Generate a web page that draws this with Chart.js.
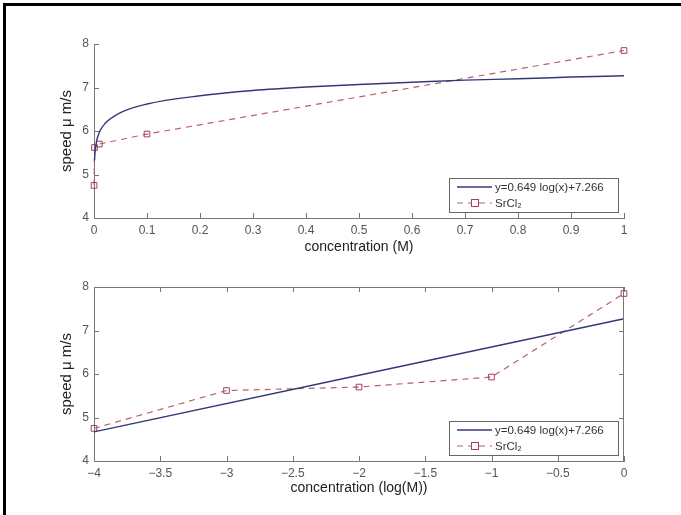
<!DOCTYPE html>
<html>
<head>
<meta charset="utf-8">
<title>speed vs concentration</title>
<script src="https://cdn.jsdelivr.net/npm/chart.js@4.4.1/dist/chart.umd.min.js"></script>
<style>
  body { margin: 0; background: #fff; }
  #wrap { position: relative; width: 681px; height: 515px; overflow: hidden; background: #fff; }
  #frame { position: absolute; left: 3px; top: 3px; width: 700px; height: 600px;
           border-left: 3px solid #000; border-top: 3px solid #000; }
  canvas { position: absolute; left: 0; }
  #top { top: 0; }
  #bottom { top: 256px; }
</style>
</head>
<body>
<div id="wrap">
  <div id="frame"></div>
  <canvas id="top" width="681" height="256"></canvas>
  <canvas id="bottom" width="681" height="259"></canvas>
</div>
<script>
// measured points (SrCl2)
const concM = [0.0001, 0.001, 0.01, 0.1, 1];
const concLog = [-4, -3, -2, -1, 0];
const speed = [4.75, 5.62, 5.70, 5.93, 7.85];

// fit curve, values
const fitX = [0.001, 0.002, 0.005, 0.01, 0.02, 0.05, 0.1, 0.2, 0.3, 0.4, 0.5, 0.6, 0.7, 0.8, 0.9, 1.0];
const fitY = [5.32, 5.51, 5.77, 5.97, 6.16, 6.42, 6.62, 6.81, 6.93, 7.01, 7.07, 7.12, 7.17, 7.20, 7.24, 7.27];

// fit line in the log panel (end points)
const fitLogX = [-4, 0];
const fitLogY = [4.67, 7.27];

const yTicks = [4, 5, 6, 7, 8];
const fitLabel = 'y=0.649 log(x)+7.266';
const dataLabel = 'SrCl₂';

const axisColor = '#777';
const fitColor = '#34387a';
const dashColor = '#b8616e';
const markColor = '#a3405a';

function pts(xs, ys) {
  return xs.map((x, i) => ({ x: x, y: ys[i] }));
}

// MATLAB style ticks pointing into the plot, plus optional box
const innerTicks = {
  id: 'innerTicks',
  afterDraw(chart, args, opts) {
    const ctx = chart.ctx;
    const a = chart.chartArea;
    const xs = chart.scales.x, ys = chart.scales.y;
    ctx.save();
    ctx.strokeStyle = axisColor;
    ctx.lineWidth = 1;
    ctx.beginPath();
    xs.ticks.forEach(t => {
      const px = Math.round(xs.getPixelForValue(t.value)) + 0.5;
      ctx.moveTo(px, a.bottom); ctx.lineTo(px, a.bottom - 5);
      if (opts.box) { ctx.moveTo(px, a.top); ctx.lineTo(px, a.top + 5); }
    });
    ys.ticks.forEach(t => {
      const py = Math.round(ys.getPixelForValue(t.value)) + 0.5;
      ctx.moveTo(a.left, py); ctx.lineTo(a.left + 5, py);
      if (opts.box) { ctx.moveTo(a.right, py); ctx.lineTo(a.right - 5, py); }
    });
    if (opts.box) {
      ctx.moveTo(a.left, a.top + 0.5); ctx.lineTo(a.right, a.top + 0.5);
      ctx.moveTo(a.right - 0.5, a.top); ctx.lineTo(a.right - 0.5, a.bottom);
    }
    ctx.stroke();
    ctx.restore();
  }
};

// boxed legend in the lower right corner
const boxLegend = {
  id: 'boxLegend',
  afterDraw(chart) {
    const ctx = chart.ctx;
    const a = chart.chartArea;
    const w = 169, h = 34;
    const x0 = a.right - 6 - w, y0 = a.bottom - 6 - h;
    ctx.save();
    ctx.fillStyle = '#fff';
    ctx.fillRect(x0, y0, w, h);
    ctx.strokeStyle = '#666';
    ctx.lineWidth = 1;
    ctx.strokeRect(x0 + 0.5, y0 + 0.5, w, h);
    const ds = chart.data.datasets;
    const rows = [y0 + 9, y0 + 25];
    ds.forEach((d, i) => {
      const y = rows[i];
      ctx.strokeStyle = d.borderColor;
      ctx.lineWidth = d.borderWidth;
      ctx.setLineDash(d.borderDash || []);
      ctx.beginPath();
      ctx.moveTo(x0 + 8, y); ctx.lineTo(x0 + 43, y);
      ctx.stroke();
      ctx.setLineDash([]);
      if (d.pointRadius > 0) {
        ctx.strokeStyle = d.pointBorderColor;
        ctx.lineWidth = 1;
        ctx.fillStyle = '#fff';
        ctx.fillRect(x0 + 22, y - 4, 8, 8);
        ctx.strokeRect(x0 + 22.5, y - 3.5, 7, 7);
      }
      ctx.fillStyle = '#333';
      ctx.font = '11.5px Arial, "Liberation Sans", sans-serif';
      ctx.textBaseline = 'middle';
      ctx.fillText(d.label, x0 + 46, y + 1);
    });
    ctx.restore();
  }
};

function datasets(fitPts, dataPts) {
  return [
    {
      label: fitLabel, data: fitPts, borderColor: fitColor, borderWidth: 1.4,
      pointRadius: 0, cubicInterpolationMode: 'monotone', clip: false
    },
    {
      label: dataLabel, data: dataPts, borderColor: dashColor, borderWidth: 1.2,
      borderDash: [6, 5], pointStyle: 'rect', pointRadius: 4,
      pointBorderColor: markColor, pointBackgroundColor: 'rgba(255,255,255,0)',
      pointBorderWidth: 1, clip: false
    }
  ];
}

function makeOptions(xMin, xMax, xStep, xTitle, pad, xHeight, box) {
  return {
    responsive: false,
    devicePixelRatio: 1,
    animation: false,
    layout: { padding: pad },
    plugins: {
      legend: { display: false },
      tooltip: { enabled: false },
      innerTicks: { box: box }
    },
    scales: {
      x: {
        type: 'linear', min: xMin, max: xMax,
        afterFit: s => { s.height = xHeight; },
        grid: { display: false, drawTicks: false },
        border: { display: true, color: axisColor, width: 1 },
        ticks: {
          stepSize: xStep, padding: 5, color: '#555',
          font: { family: 'Arial, "Liberation Sans", sans-serif', size: 12 },
          maxRotation: 0,
          callback: v => String(Math.round(v * 10) / 10).replace('-', '\u2212')
        },
        title: {
          display: true, text: xTitle, color: '#222', padding: { top: 0, bottom: 0 },
          font: { family: 'Arial, "Liberation Sans", sans-serif', size: 14 }
        }
      },
      y: {
        type: 'linear', min: yTicks[0], max: yTicks[yTicks.length - 1],
        afterFit: s => { s.width = 36; },
        grid: { display: false, drawTicks: false },
        border: { display: true, color: axisColor, width: 1 },
        ticks: {
          stepSize: 1, padding: 5, color: '#555',
          font: { family: 'Arial, "Liberation Sans", sans-serif', size: 12 }
        },
        title: {
          display: true, text: 'speed μ m/s', color: '#222', padding: { top: 0, bottom: 0 },
          font: { family: 'Arial, "Liberation Sans", sans-serif', size: 15 }
        }
      }
    }
  };
}

new Chart(document.getElementById('top'), {
  type: 'line',
  data: { datasets: datasets(pts(fitX, fitY), pts(concM, speed)) },
  options: makeOptions(0, 1, 0.1, 'concentration (M)',
    { left: 58, right: 57, top: 44, bottom: 0 }, 38, false),
  plugins: [innerTicks, boxLegend]
});

new Chart(document.getElementById('bottom'), {
  type: 'line',
  data: { datasets: datasets(pts(fitLogX, fitLogY), pts(concLog, speed)) },
  options: makeOptions(-4, 0, 0.5, 'concentration (log(M))',
    { left: 58, right: 57, top: 31, bottom: 18 }, 36, true),
  plugins: [innerTicks, boxLegend]
});
</script>
</body>
</html>
